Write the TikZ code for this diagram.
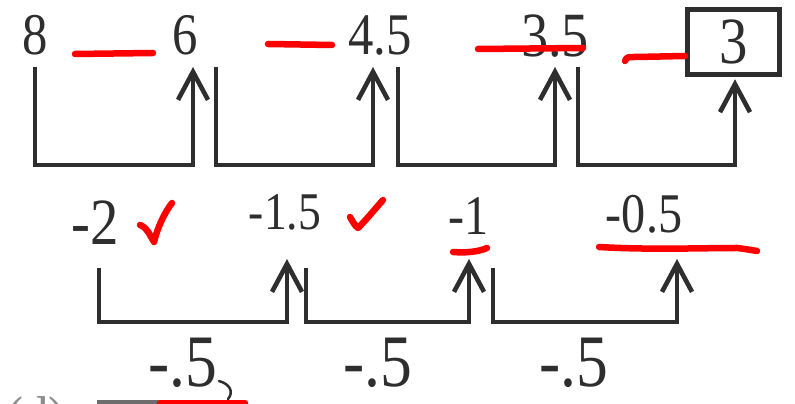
\documentclass[tikz,border=0pt]{standalone}
\usepackage{fontspec}
\setmainfont{Liberation Serif}
\usepackage{graphicx}
\usetikzlibrary{arrows.meta}
\definecolor{ink}{HTML}{2E2E2E}
\definecolor{pen}{HTML}{FF0000}
\newcommand{\sqz}[1]{\scalebox{0.86}[1]{#1}}
\begin{document}
\begin{tikzpicture}[x=1pt,y=1pt,
  num/.style={inner sep=0pt, anchor=base, text=ink},
  fA/.style={font=\fontsize{59pt}{59pt}\selectfont},
  fB/.style={font=\fontsize{63pt}{63pt}\selectfont},
  fC/.style={font=\fontsize{66pt}{66pt}\selectfont},
  fD/.style={font=\fontsize{53pt}{53pt}\selectfont},
  fE/.style={font=\fontsize{56pt}{56pt}\selectfont},
  fF/.style={font=\fontsize{74pt}{74pt}\selectfont},
  bk/.style={draw=ink, line width=4.6pt, line join=miter},
  bka/.style={bk, -{Straight Barb[length=28pt,width=30pt]}},
  redmark/.style={draw=pen, line width=6.5pt, line cap=round, line join=round},
]
\useasboundingbox (0,0) rectangle (795,404);
\clip (0,0) rectangle (795,404);
\fill[white] (0,0) rectangle (795,404);

% top row
\node[num,fA] (n8) at (35,349) {\sqz{8}};
\node[num,fA] (n6) at (185,349) {\sqz{6}};
\node[num,fA] (n45) at (380,349) {\sqz{4.5}};
\node[num,fB] (n35) at (555,347) {\sqz{3.5}};
\node[draw=ink, line width=4.6pt, minimum width=92pt, minimum height=65pt,
      inner sep=0pt, text=ink, fC] (n3) at (733.5,362) {\sqz{3}};

% top brackets
\draw[bka] ([yshift=-12pt]n8.base) -- ++(0,-98) -| ([xshift=8pt,yshift=-12pt]n6.base);
\draw[bka] ([xshift=31pt,yshift=-12pt]n6.base) -- ++(0,-98) -| ([xshift=-7pt,yshift=-12pt]n45.base);
\draw[bka] ([xshift=18pt,yshift=-12pt]n45.base) -- ++(0,-98) -| ([yshift=-10pt]n35.base);
\draw[bka] ([xshift=23pt,yshift=-10pt]n35.base) -- ++(0,-98) -| ([xshift=1.5pt,yshift=-2.5pt]n3.south);

% second row
\node[num,fC] (m2) at (95,159) {\sqz{-2}};
\node[num,fD] (m15) at (285,174) {\sqz{-1.5}};
\node[num,fE] (m1) at (469,169) {\sqz{-1}};
\node[num,fE] (m05) at (644,171) {\sqz{-0.5}};

% second brackets
\draw[bka] ([xshift=4pt,yshift=-23pt]m2.base) -- ++(0,-54) -| ([xshift=2pt,yshift=-29pt]m15.base);
\draw[bka] ([xshift=21pt,yshift=-38pt]m15.base) -- ++(0,-54) -| ([yshift=-24pt]m1.base);
\draw[bka] ([xshift=24pt,yshift=-33pt]m1.base) -- ++(0,-54) -| ([xshift=33pt,yshift=-26pt]m05.base);

% differences
\node[num,fF] (d1) at (183,17) {\sqz{-.5}};
\node[num,fF] (d2) at (378,17) {\sqz{-.5}};
\node[num,fF] (d3) at (574,17) {\sqz{-.5}};

% cut-off bottom line
\node[num,fA,text=ink!55] (dd) at (36,-34) {\sqz{(d)}};
\draw[draw=ink!70, line width=4pt] (97,2) -- (245,2);
\draw[draw=ink, line width=2.5pt, line cap=round] (219,23) .. controls (230,20) and (234,12) .. (228,5);

% red annotations
\draw[redmark] (75,350) -- (153,351);
\draw[redmark] (268,360) -- (332,359);
\draw[redmark] (478,355) -- (583,356);
\draw[redmark] (625,343) .. controls (627,347) .. (636,347) -- (685,348);
\draw[redmark] (140,179) .. controls (148,176) and (150,168) .. (154,162) .. controls (158,178) and (165,192) .. (172,201);
\draw[redmark] (350,187) .. controls (353,182) and (355,178) .. (358,176) .. controls (366,184) and (375,195) .. (383,204);
\draw[redmark] (453,152) .. controls (465,151) and (478,152) .. (487,156);
\draw[redmark] (599,157) .. controls (650,154) and (700,156) .. (737,156) .. controls (745,155) .. (757,153);
\draw[redmark] (160,1) -- (245,1);
\end{tikzpicture}
\end{document}
